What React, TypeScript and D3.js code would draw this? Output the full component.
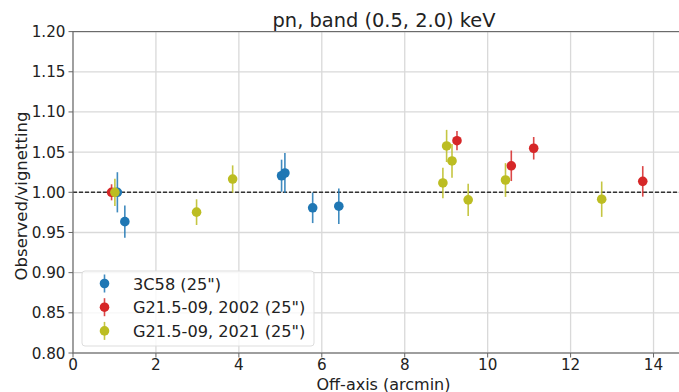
import { useEffect, useRef } from 'react';
import * as d3 from 'd3';

// 3C58 (25")
const blueX = [1.07, 1.25, 5.03, 5.11, 5.78, 6.41];
const blueY = [1.0, 0.9635, 1.0206, 1.024, 0.9807, 0.9827];
const blueErr = [0.025, 0.02, 0.02, 0.025, 0.019, 0.022];

// G21.5-09, 2002 (25")
const redX = [0.93, 9.26, 10.57, 11.11, 13.74];
const redY = [1.0, 1.0642, 1.033, 1.0548, 1.0136];
const redErr = [0.01, 0.012, 0.019, 0.014, 0.019];

// G21.5-09, 2021 (25")
const yellowX = [1.01, 2.98, 3.85, 8.92, 9.01, 9.14, 9.53, 10.43, 12.75];
const yellowY = [1.0, 0.9753, 1.0165, 1.0116, 1.0577, 1.039, 0.9906, 1.0153, 0.9914];
const yellowErr = [0.017, 0.016, 0.017, 0.019, 0.02, 0.021, 0.02, 0.021, 0.022];

const xTicks = [0, 2, 4, 6, 8, 10, 12, 14];
const yTicks = [0.8, 0.85, 0.9, 0.95, 1.0, 1.05, 1.1, 1.15, 1.2];

const seriesNames = ['3C58 (25")', 'G21.5-09, 2002 (25")', 'G21.5-09, 2021 (25")'];
const seriesColors = ['#1f77b4', '#d62728', '#bcbd22'];

export default function App() {
  const svgRef = useRef<SVGSVGElement | null>(null);
  const width = 679;
  const height = 392;

  useEffect(() => {
    if (!svgRef.current) return;
    const svg = d3.select(svgRef.current);
    svg.selectAll('*').remove();

    const x = d3.scaleLinear().domain([0, 15]).range([73, 695]);
    const y = d3.scaleLinear().domain([0.8, 1.2]).range([353, 31.6]);
    const font = 'DejaVu Sans, sans-serif';

    const g = svg.append('g');

    // grid
    g.selectAll('.vgrid').data(xTicks).enter().append('line')
      .attr('x1', d => x(d)).attr('x2', d => x(d))
      .attr('y1', y(0.8)).attr('y2', y(1.2))
      .attr('stroke', '#d9d9d9').attr('stroke-width', 1.3);
    g.selectAll('.hgrid').data(yTicks).enter().append('line')
      .attr('x1', x(0)).attr('x2', x(15))
      .attr('y1', d => y(d)).attr('y2', d => y(d))
      .attr('stroke', '#d9d9d9').attr('stroke-width', 1.3);

    // reference line
    g.append('line')
      .attr('x1', x(0)).attr('x2', x(15))
      .attr('y1', y(1)).attr('y2', y(1))
      .attr('stroke', '#333').attr('stroke-width', 1.4)
      .attr('stroke-dasharray', '4,2');

    // spines
    g.append('rect')
      .attr('x', x(0)).attr('y', y(1.2))
      .attr('width', x(15) - x(0)).attr('height', y(0.8) - y(1.2))
      .attr('fill', 'none').attr('stroke', '#666').attr('stroke-width', 1.1);

    // ticks
    g.selectAll('.xt').data(xTicks).enter().append('line')
      .attr('x1', d => x(d)).attr('x2', d => x(d))
      .attr('y1', y(0.8)).attr('y2', y(0.8) + 4.5)
      .attr('stroke', '#666');
    g.selectAll('.xl').data(xTicks).enter().append('text')
      .attr('x', d => x(d)).attr('y', 370)
      .attr('text-anchor', 'middle')
      .attr('font-family', font).attr('font-size', 15.2).attr('fill', '#222')
      .text(d => d3.format('d')(d));
    g.selectAll('.yt').data(yTicks).enter().append('line')
      .attr('x1', x(0) - 4.5).attr('x2', x(0))
      .attr('y1', d => y(d)).attr('y2', d => y(d))
      .attr('stroke', '#666');
    g.selectAll('.yl').data(yTicks).enter().append('text')
      .attr('x', x(0) - 7.5).attr('y', d => y(d) + 5.5)
      .attr('text-anchor', 'end')
      .attr('font-family', font).attr('font-size', 15.2).attr('fill', '#222')
      .text(d => d3.format('.2f')(d));

    // labels
    svg.append('text')
      .attr('x', 384).attr('y', 26.5)
      .attr('text-anchor', 'middle')
      .attr('font-family', font).attr('font-size', 19.4).attr('fill', '#222')
      .text('pn, band (0.5, 2.0) keV');
    svg.append('text')
      .attr('x', 383.5).attr('y', 389.5)
      .attr('text-anchor', 'middle')
      .attr('font-family', font).attr('font-size', 16).attr('fill', '#222')
      .text('Off-axis (arcmin)');
    svg.append('text')
      .attr('transform', `translate(26.5,196) rotate(-90)`)
      .attr('text-anchor', 'middle')
      .attr('font-family', font).attr('font-size', 16.5).attr('fill', '#222')
      .text('Observed/vignetting');

    // series
    const series = [
      { xs: blueX, ys: blueY, es: blueErr },
      { xs: redX, ys: redY, es: redErr },
      { xs: yellowX, ys: yellowY, es: yellowErr },
    ];
    series.forEach((s, si) => {
      const pts = s.xs.map((xv, i) => ({ x: xv, y: s.ys[i], e: s.es[i] }));
      const sg = g.append('g');
      sg.selectAll('line').data(pts).enter().append('line')
        .attr('x1', d => x(d.x)).attr('x2', d => x(d.x))
        .attr('y1', d => y(d.y - d.e)).attr('y2', d => y(d.y + d.e))
        .attr('stroke', seriesColors[si]).attr('stroke-width', 1.6).attr('opacity', 0.85);
      sg.selectAll('circle').data(pts).enter().append('circle')
        .attr('cx', d => x(d.x)).attr('cy', d => y(d.y))
        .attr('r', 4.8).attr('fill', seriesColors[si]);
    });

    // legend
    const lg = g.append('g');
    lg.append('rect')
      .attr('x', 82).attr('y', 271).attr('width', 232).attr('height', 75).attr('rx', 3)
      .attr('fill', 'white').attr('fill-opacity', 0.8)
      .attr('stroke', '#dddddd');
    seriesNames.forEach((name, i) => {
      const cy = 283.5 + i * 23.7;
      lg.append('line')
        .attr('x1', 104.5).attr('x2', 104.5).attr('y1', cy - 9).attr('y2', cy + 9)
        .attr('stroke', seriesColors[i]).attr('stroke-width', 1.6).attr('opacity', 0.85);
      lg.append('circle').attr('cx', 104.5).attr('cy', cy).attr('r', 4.8).attr('fill', seriesColors[i]);
      lg.append('text')
        .attr('x', 133).attr('y', cy + 6)
        .attr('font-family', font).attr('font-size', 16.2).attr('fill', '#222')
        .text(name);
    });
  }, []);

  return (
    <div style={{ position: 'absolute', left: 0, top: 0, width, height, overflow: 'hidden', background: 'white' }}>
      <svg ref={svgRef} width={width} height={height} style={{ display: 'block', overflow: 'hidden' }} />
    </div>
  );
}
